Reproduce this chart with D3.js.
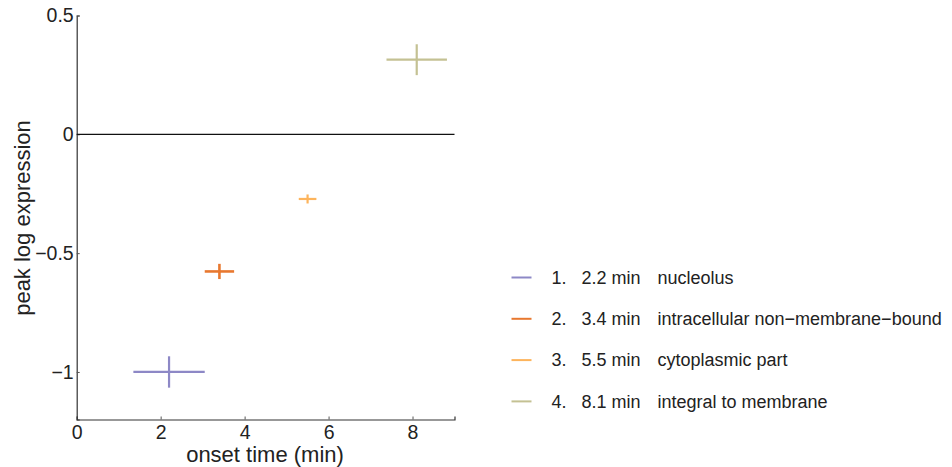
<!DOCTYPE html>
<html>
<head>
<meta charset="utf-8">
<script src="https://cdn.jsdelivr.net/npm/d3@7"></script>
<style>
body { margin: 0; background: #fff; }
text { font-family: "Liberation Sans", Arial, sans-serif; }
</style>
</head>
<body>
<script>
// data
var names = ["nucleolus", "intracellular non\u2212membrane\u2212bound", "cytoplasmic part", "integral to membrane"];
var onset = [2.2, 3.4, 5.5, 8.1];
var onsetErr = [0.85, 0.35, 0.21, 0.72];
var peak = [-1.0, -0.577, -0.272, 0.314];
var peakErr = [0.066, 0.032, 0.019, 0.065];
var colors = ["#8d88c6", "#e8782f", "#fdb45c", "#c4c193"];
var xTicks = [0, 2, 4, 6, 8];
var yTicks = [-1, -0.5, 0, 0.5];

var width = 952, height = 467;

var svg = d3.select("body").append("svg")
    .attr("width", width)
    .attr("height", height);

var x = d3.scaleLinear().domain([0, 9]).range([76.7, 454.5]);
var y = d3.scaleLinear().domain([-1.2, 0.5]).range([419.5, 15.5]);

var fmt = function (d) {
    return d == 0 ? "0" : d3.format("")(d).replace("-", "\u2212");
};

var gx = svg.append("g")
    .attr("transform", "translate(0," + y(-1.2) + ")")
    .call(d3.axisBottom(x).tickValues(xTicks).tickSize(-3).tickFormat(fmt));
var gy = svg.append("g")
    .attr("transform", "translate(" + x(0) + ",0)")
    .call(d3.axisLeft(y).tickValues(yTicks).tickSize(-3).tickFormat(fmt));

[gx, gy].forEach(function (g) {
    g.select(".domain").attr("stroke", "#333").attr("stroke-width", 1.2);
    g.selectAll(".tick line").attr("stroke", "#555");
    g.selectAll(".tick text")
        .attr("fill", "#222")
        .style("font-size", "19.5px")
        .style("font-family", "'Liberation Sans', Arial, sans-serif");
});
// ticks go inward, so place labels by hand
gx.selectAll(".tick text").attr("y", 6).attr("dy", "0.71em");
gy.selectAll(".tick text").attr("x", -3);

// zero line
svg.append("line")
    .attr("x1", x(0)).attr("x2", x(9))
    .attr("y1", y(0)).attr("y2", y(0))
    .attr("stroke", "#111").attr("stroke-width", 1.3);

// axis labels
svg.append("text")
    .attr("x", 265).attr("y", 462)
    .attr("text-anchor", "middle")
    .attr("fill", "#222")
    .style("font-size", "22px")
    .text("onset time (min)");
svg.append("text")
    .attr("transform", "translate(30,218) rotate(-90)")
    .attr("text-anchor", "middle")
    .attr("fill", "#222")
    .style("font-size", "22px")
    .text("peak log expression");

// error crosses
var idx = d3.range(names.length);
var crosses = svg.append("g").selectAll("g")
    .data(idx).enter().append("g");
crosses.append("line")
    .attr("x1", function (i) { return x(onset[i] - onsetErr[i]); })
    .attr("x2", function (i) { return x(onset[i] + onsetErr[i]); })
    .attr("y1", function (i) { return y(peak[i]); })
    .attr("y2", function (i) { return y(peak[i]); })
    .attr("stroke", function (i) { return colors[i]; })
    .attr("stroke-width", function (i) { return i == 1 ? 2.6 : 2.2; });
crosses.append("line")
    .attr("x1", function (i) { return x(onset[i]); })
    .attr("x2", function (i) { return x(onset[i]); })
    .attr("y1", function (i) { return y(peak[i] - peakErr[i]); })
    .attr("y2", function (i) { return y(peak[i] + peakErr[i]); })
    .attr("stroke", function (i) { return colors[i]; })
    .attr("stroke-width", function (i) { return i == 1 ? 2.6 : 2.2; });

// legend
var legend = svg.append("g").selectAll("g")
    .data(idx).enter().append("g")
    .attr("transform", function (i) { return "translate(0," + (277.5 + i * 41.3) + ")"; });
legend.append("line")
    .attr("x1", 511.5).attr("x2", 531.5)
    .attr("stroke", function (i) { return colors[i]; })
    .attr("stroke-width", 2);
legend.append("text")
    .attr("x", 551.5).attr("dy", "0.35em")
    .attr("fill", "#222").style("font-size", "18px")
    .text(function (i) { return (i + 1) + "."; });
legend.append("text")
    .attr("x", 581.5).attr("dy", "0.35em")
    .attr("fill", "#222").style("font-size", "18px")
    .text(function (i) { return onset[i].toFixed(1) + " min"; });
legend.append("text")
    .attr("x", 657.5).attr("dy", "0.35em")
    .attr("fill", "#222").style("font-size", "18px")
    .text(function (i) { return names[i]; });
</script>
</body>
</html>
